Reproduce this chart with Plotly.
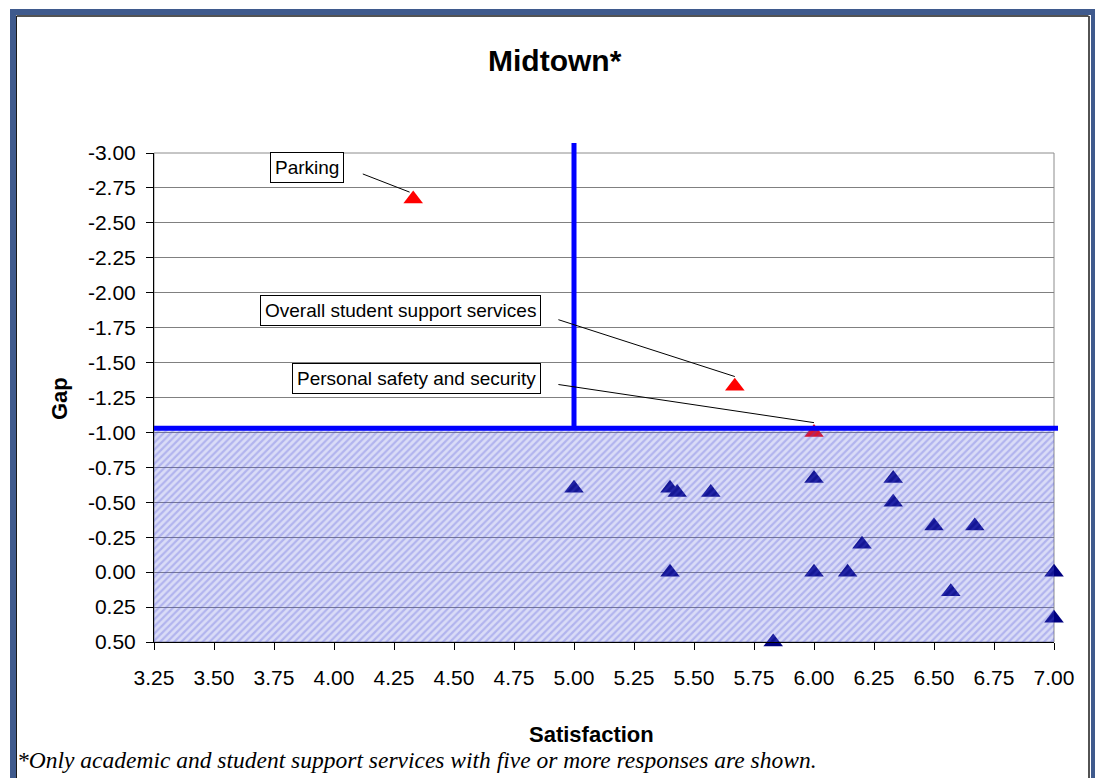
import plotly.graph_objects as go

# ---------------- data ----------------
blue_sat = [5.00, 5.40, 5.43, 5.57, 6.00, 6.33, 6.33, 6.50, 6.67, 6.20,
            5.40, 6.00, 6.14, 7.00, 6.57, 7.00, 5.83]
blue_gap = [-0.60, -0.60, -0.57, -0.57, -0.67, -0.67, -0.50, -0.33, -0.33, -0.20,
            0.00, 0.00, 0.00, 0.00, 0.14, 0.33, 0.50]

red_names = ["Parking", "Overall student support services", "Personal safety and security"]
red_sat = [4.33, 5.67, 6.00]
red_gap = [-2.67, -1.33, -1.00]

sat_threshold = 5.00
gap_threshold = -1.03

x_ticks = [3.25, 3.50, 3.75, 4.00, 4.25, 4.50, 4.75, 5.00, 5.25, 5.50, 5.75, 6.00, 6.25, 6.50, 6.75, 7.00]
x_tick_labels = ["3.25", "3.50", "3.75", "4.00", "4.25", "4.50", "4.75", "5.00",
                 "5.25", "5.50", "5.75", "6.00", "6.25", "6.50", "6.75", "7.00"]
y_ticks = [-3.00, -2.75, -2.50, -2.25, -2.00, -1.75, -1.50, -1.25, -1.00,
           -0.75, -0.50, -0.25, 0.00, 0.25, 0.50]
y_tick_labels = ["-3.00", "-2.75", "-2.50", "-2.25", "-2.00", "-1.75", "-1.50", "-1.25", "-1.00",
                 "-0.75", "-0.50", "-0.25", "0.00", "0.25", "0.50"]
x_range = [3.25, 7.00]
y_range = [0.50, -3.00]

# ---------------- layout helpers (pixel -> paper) ----------------
W, H = 1095, 778
L, R, T, B = 154, 1054, 153, 642


def px(p):
    return (p - L) / (R - L)


def py(p):
    return (B - p) / (B - T)


# label placement (data coordinates of label centres and leader-line starts)
label_pos = [(3.887, -2.893), (4.277, -1.875), (4.343, -1.389)]
leader_start = [(4.12, -2.85), (4.935, -1.807), (4.935, -1.343)]
leader_end_dx = [-0.015, 0.0, 0.0]
leader_end_dy = [-0.05, -0.07, -0.07]

fig = go.Figure()

fig.add_trace(go.Scatter(
    x=blue_sat, y=blue_gap, mode="markers",
    marker=dict(symbol="triangle-up", size=17, color="#000080"),
    cliponaxis=False, showlegend=False, hoverinfo="skip"))

fig.add_trace(go.Scatter(
    x=red_sat, y=red_gap, mode="markers", text=red_names,
    marker=dict(symbol="triangle-up", size=17, color="#FF0000"),
    cliponaxis=False, showlegend=False, hoverinfo="skip"))

# hatched region (drawn over markers, semi-transparent)
fig.add_trace(go.Scatter(
    x=[x_range[0], x_range[1], x_range[1], x_range[0], x_range[0]],
    y=[gap_threshold, gap_threshold, y_range[0], y_range[0], gap_threshold],
    mode="lines", line=dict(width=0), fill="toself",
    fillcolor="rgba(88,95,220,0.24)",
    fillpattern=dict(shape="/", bgcolor="rgba(88,95,220,0.22)",
                     fgcolor="rgba(70,75,215,0.55)", size=5, solidity=0.45),
    showlegend=False, hoverinfo="skip"))

shapes = []
# plot-area border (gray)
shapes.append(dict(type="rect", xref="paper", yref="paper", x0=0, x1=1, y0=0, y1=1,
                   line=dict(color="#8c8c8c", width=1), layer="below"))
# blue threshold lines
shapes.append(dict(type="line", xref="x", yref="paper",
                   x0=sat_threshold, x1=sat_threshold,
                   y0=(y_range[0] - gap_threshold) / (y_range[0] - y_range[1]),
                   y1=py(143),
                   line=dict(color="#0000FF", width=5)))
shapes.append(dict(type="line", xref="paper", yref="y",
                   x0=0, x1=px(1058), y0=gap_threshold, y1=gap_threshold,
                   line=dict(color="#0000FF", width=5)))
# leader lines
for (sx, sy), xs, ys, dx, dy in zip(leader_start, red_sat, red_gap, leader_end_dx, leader_end_dy):
    shapes.append(dict(type="line", xref="x", yref="y", x0=sx, y0=sy,
                       x1=xs + dx, y1=ys + dy,
                       line=dict(color="black", width=1)))
# outer frame
shapes.append(dict(type="rect", xref="paper", yref="paper",
                   x0=px(13), x1=px(1094), y0=py(800), y1=py(12),
                   line=dict(color="#3F5A8D", width=6)))
shapes.append(dict(type="line", xref="paper", yref="paper",
                   x0=px(16.5), x1=px(1088.5), y0=py(16), y1=py(16),
                   line=dict(color="#1a1a1a", width=1.5)))
shapes.append(dict(type="line", xref="paper", yref="paper",
                   x0=px(1089), x1=px(1089), y0=py(800), y1=py(16),
                   line=dict(color="#1a1a1a", width=1.5)))
shapes.append(dict(type="line", xref="paper", yref="paper",
                   x0=px(16.5), x1=px(16.5), y0=py(800), y1=py(16),
                   line=dict(color="#1a1a1a", width=1)))

annotations = []
for name, (lx, ly) in zip(red_names, label_pos):
    annotations.append(dict(x=lx, y=ly, xref="x", yref="y", text=name, showarrow=False,
                            font=dict(family="Liberation Sans, Arial", size=19, color="black"),
                            bgcolor="white", bordercolor="black", borderwidth=1, borderpad=4,
                            xanchor="center", yanchor="middle"))
annotations.append(dict(x=px(555), y=py(60), xref="paper", yref="paper", text="<b>Midtown*</b>",
                        showarrow=False, font=dict(family="Liberation Sans, Arial", size=30, color="black"),
                        xanchor="center", yanchor="middle"))
annotations.append(dict(x=px(59), y=py(399), xref="paper", yref="paper", text="<b>Gap</b>",
                        showarrow=False, textangle=-90,
                        font=dict(family="Liberation Sans, Arial", size=22, color="black"),
                        xanchor="center", yanchor="middle"))
annotations.append(dict(x=px(591), y=py(734), xref="paper", yref="paper", text="<b>Satisfaction</b>",
                        showarrow=False, font=dict(family="Liberation Sans, Arial", size=22, color="black"),
                        xanchor="center", yanchor="middle"))
annotations.append(dict(x=px(15), y=py(760), xref="paper", yref="paper",
                        text="<i>*Only academic and student support services with five or more responses are shown.</i>",
                        showarrow=False, font=dict(family="Liberation Serif, Times New Roman", size=23.5, color="black"),
                        xanchor="left", yanchor="middle"))

fig.update_layout(
    width=W, height=H, autosize=False,
    margin=dict(l=L, r=W - R, t=T, b=H - B, pad=0),
    paper_bgcolor="white", plot_bgcolor="white",
    shapes=shapes, annotations=annotations,
    xaxis=dict(range=x_range, tickvals=x_ticks, ticktext=x_tick_labels,
               showgrid=False, zeroline=False,
               showline=True, linecolor="black", linewidth=1,
               ticks="outside", ticklen=7, tickcolor="black", tickwidth=1,
               ticklabelstandoff=10,
               tickfont=dict(family="Liberation Sans, Arial", size=21, color="black")),
    yaxis=dict(range=y_range, tickvals=y_ticks, ticktext=y_tick_labels,
               showgrid=True, gridcolor="#808080", gridwidth=1, zeroline=False,
               showline=True, linecolor="black", linewidth=1,
               ticks="outside", ticklen=7, tickcolor="black", tickwidth=1,
               ticklabelstandoff=6,
               tickfont=dict(family="Liberation Sans, Arial", size=21, color="black")),
)

fig.write_html("out.html")
